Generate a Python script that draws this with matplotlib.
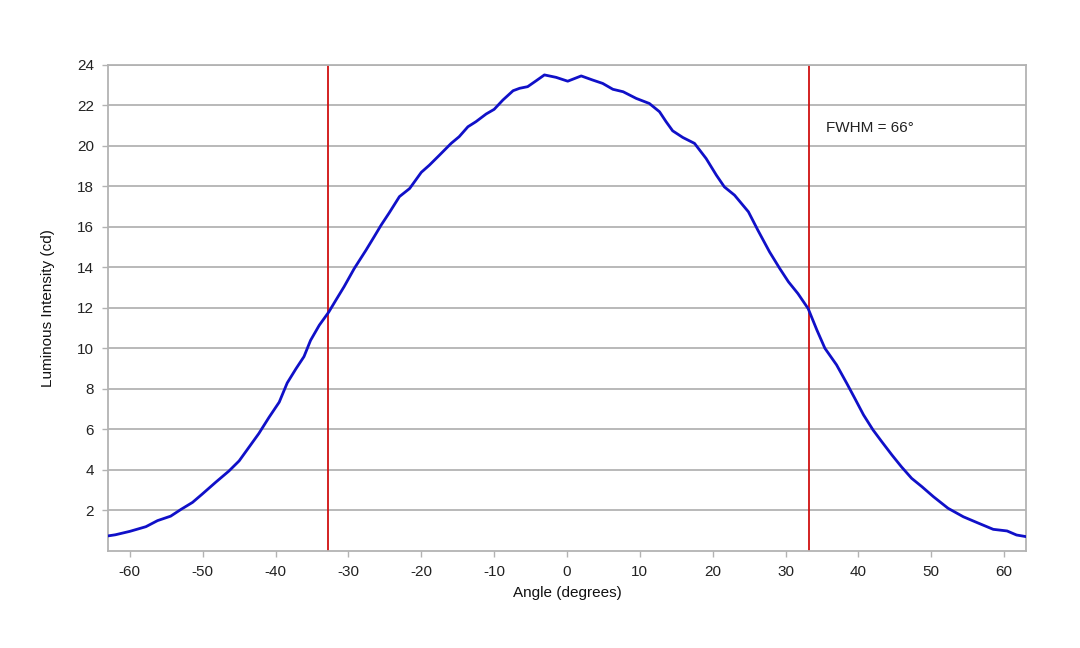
import matplotlib
matplotlib.use('Agg')

import matplotlib.pyplot as plt

# angle (degrees) and luminous intensity (cd)
angle = [-63.1, -62.0, -60.0, -57.8, -56.2, -54.4, -53.0, -51.4, -50.1, -48.2,
         -46.4, -45.0, -43.7, -42.3, -40.9, -39.5, -38.4, -37.2, -36.1, -35.2,
         -34.0, -32.7, -31.7, -30.6, -29.2, -27.6, -26.5, -25.5, -24.4, -23.0,
         -21.6, -20.0, -18.9, -17.5, -15.9, -14.8, -13.6, -12.5, -11.1, -10.0,
         -8.8, -7.4, -6.5, -5.4, -4.2, -3.1, -1.5, 0.1, 1.95, 3.5,
         4.9, 6.3, 7.7, 9.5, 11.3, 12.7, 13.6, 14.5, 15.9, 17.5,
         19.1, 20.5, 21.6, 23.0, 24.9, 26.2, 27.8, 29.2, 30.4, 31.7,
         33.1, 34.3, 35.4, 37.0, 38.4, 39.5, 40.7, 42.0, 43.2, 44.6,
         45.9, 47.3, 48.7, 50.3, 52.3, 54.4, 56.5, 58.5, 60.4, 61.7, 63.0]
intensity = [0.74, 0.80, 0.97, 1.2, 1.5, 1.72, 2.05, 2.4, 2.8, 3.4,
             3.95, 4.45, 5.1, 5.8, 6.6, 7.35, 8.3, 9.0, 9.6, 10.4,
             11.15, 11.8, 12.4, 13.05, 13.95, 14.85, 15.5, 16.1, 16.7, 17.5,
             17.9, 18.7, 19.05, 19.55, 20.13, 20.46, 20.95, 21.2, 21.58, 21.81,
             22.27, 22.73, 22.85, 22.93, 23.23, 23.51, 23.39, 23.2, 23.46, 23.26,
             23.09, 22.8, 22.68, 22.35, 22.1, 21.69, 21.2, 20.75, 20.42, 20.13,
             19.38, 18.56, 17.98, 17.57, 16.75, 15.84, 14.77, 13.95, 13.29, 12.71,
             11.97, 10.91, 10.01, 9.19, 8.28, 7.54, 6.72, 5.98, 5.4, 4.74,
             4.16, 3.59, 3.18, 2.68, 2.11, 1.69, 1.37, 1.07, 0.99, 0.79, 0.71]

fwhm_lines = [-32.75, 33.2]
fwhm_label = "FWHM = 66°"

plt.rcParams['font.family'] = ['Liberation Sans', 'DejaVu Sans']
plt.rcParams['axes.unicode_minus'] = False

fig = plt.figure(figsize=(10.8, 6.48), dpi=100)
ax = fig.add_axes([0.1, 0.1497, 0.85, 0.75])

grid_col = '#b3b3b3'
ax.set_xlim(-63, 63)
ax.set_ylim(0, 24)
ax.set_xticks(range(-60, 61, 10))
ax.set_yticks(range(2, 25, 2))
ax.yaxis.grid(True, color=grid_col, linewidth=1.3)
ax.set_axisbelow(True)

for s in ax.spines.values():
    s.set_color(grid_col)
    s.set_linewidth(1.3)

ax.tick_params(axis='both', colors=grid_col, labelcolor='#222222', labelsize=11,
               length=4, width=1.0, pad=6)

ax.plot(angle, intensity, color='#1010c8', linewidth=2.0, zorder=3,
        solid_joinstyle='round', solid_capstyle='round')
for xv in fwhm_lines:
    ax.axvline(xv, color='#d01010', linewidth=1.3, zorder=2)

ax.text(35.6, 20.87, fwhm_label, ha='left', va='center', fontsize=11, color='#222222')

ax.set_xlabel("Angle (degrees)", fontsize=11, color='#111111', labelpad=5)
ax.set_ylabel("Luminous Intensity (cd)", fontsize=11, color='#111111', labelpad=16)

fig.savefig("out.png", dpi=100)
